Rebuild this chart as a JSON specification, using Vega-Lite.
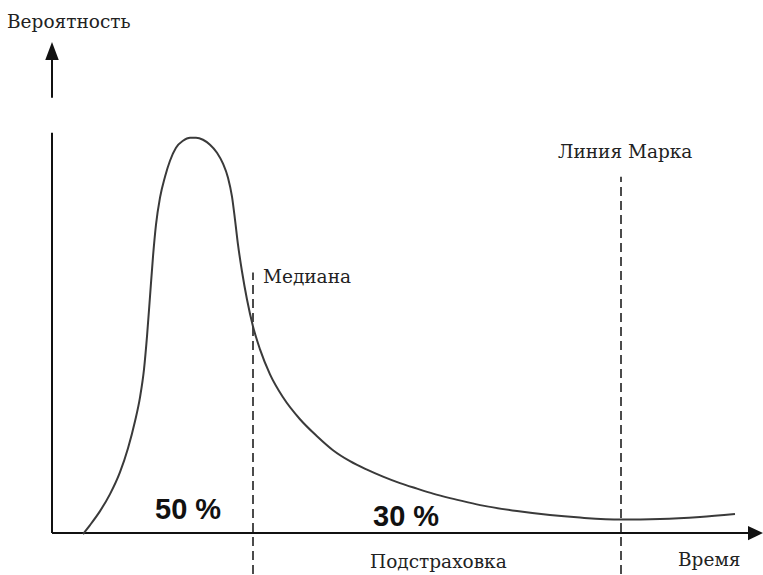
{
  "$schema": "https://vega.github.io/schema/vega-lite/v6.json",
  "width": 763,
  "height": 575,
  "padding": 0,
  "autosize": {"type": "fit", "contains": "padding"},
  "background": "white",
  "config": {"view": {"stroke": null}},
  "datasets": {
    "curve": [
      {"t": 83, "p": 40}, {"t": 90, "p": 49}, {"t": 100, "p": 63}, {"t": 110, "p": 80},
      {"t": 120, "p": 102}, {"t": 128, "p": 126}, {"t": 135, "p": 153}, {"t": 140, "p": 177},
      {"t": 144, "p": 205}, {"t": 147, "p": 238}, {"t": 150, "p": 278}, {"t": 153, "p": 318},
      {"t": 156, "p": 350}, {"t": 160, "p": 377}, {"t": 165, "p": 398}, {"t": 170, "p": 414},
      {"t": 176, "p": 427}, {"t": 183, "p": 434}, {"t": 190, "p": 437}, {"t": 196, "p": 437},
      {"t": 203, "p": 435}, {"t": 210, "p": 430}, {"t": 217, "p": 422}, {"t": 223, "p": 411},
      {"t": 228, "p": 397}, {"t": 232, "p": 378}, {"t": 235, "p": 355}, {"t": 238, "p": 330},
      {"t": 242, "p": 303}, {"t": 247, "p": 275}, {"t": 253, "p": 248}, {"t": 260, "p": 225},
      {"t": 270, "p": 200}, {"t": 283, "p": 177}, {"t": 300, "p": 155}, {"t": 317, "p": 138},
      {"t": 333, "p": 124}, {"t": 350, "p": 113}, {"t": 367, "p": 104.5}, {"t": 383, "p": 97.5},
      {"t": 400, "p": 91}, {"t": 417, "p": 85.5}, {"t": 433, "p": 80.5}, {"t": 450, "p": 76},
      {"t": 467, "p": 72}, {"t": 483, "p": 68.5}, {"t": 517, "p": 63}, {"t": 550, "p": 59},
      {"t": 580, "p": 56.5}, {"t": 621, "p": 54.5}, {"t": 660, "p": 55}, {"t": 700, "p": 57},
      {"t": 735, "p": 60}
    ],
    "axes": [
      {"t": 52, "p": 41, "t2": 750, "p2": 41},
      {"t": 52, "p": 41, "t2": 52, "p2": 442},
      {"t": 52, "p": 477, "t2": 52, "p2": 515}
    ],
    "markers": [
      {"name": "Медиана", "t": 253, "p": 0, "p2": 302},
      {"name": "Линия Марка", "t": 621, "p": 0, "p2": 398}
    ],
    "arrowUp": [{"t": 52, "p": 524}],
    "arrowRight": [{"t": 755.5, "p": 41}],
    "serifLabels": [
      {"label": "Вероятность", "t": 7, "p": 553},
      {"label": "Медиана", "t": 263, "p": 298},
      {"label": "Линия Марка", "t": 558, "p": 423},
      {"label": "Подстраховка", "t": 370, "p": 12},
      {"label": "Время", "t": 678, "p": 14}
    ],
    "shares": [
      {"label": "50 %", "t": 155, "p": 64},
      {"label": "30 %", "t": 373, "p": 57}
    ]
  },
  "layer": [
    {
      "data": {"name": "axes"},
      "mark": {"type": "rule", "stroke": "#111", "strokeWidth": 2},
      "encoding": {
        "x": {"field": "t", "type": "quantitative", "scale": {"domain": [0, 763], "nice": false, "zero": false}, "axis": null},
        "y": {"field": "p", "type": "quantitative", "scale": {"domain": [0, 575], "nice": false, "zero": false}, "axis": null},
        "x2": {"field": "t2"},
        "y2": {"field": "p2"}
      }
    },
    {
      "data": {"name": "markers"},
      "mark": {"type": "rule", "stroke": "#111", "strokeWidth": 1.5, "strokeDash": [9, 5]},
      "encoding": {
        "x": {"field": "t", "type": "quantitative", "scale": {"domain": [0, 763], "nice": false, "zero": false}, "axis": null},
        "y": {"field": "p", "type": "quantitative", "scale": {"domain": [0, 575], "nice": false, "zero": false}, "axis": null},
        "y2": {"field": "p2"}
      }
    },
    {
      "data": {"name": "curve"},
      "mark": {"type": "line", "stroke": "#3a3a3a", "strokeWidth": 2, "interpolate": "monotone"},
      "encoding": {
        "x": {"field": "t", "type": "quantitative", "scale": {"domain": [0, 763], "nice": false, "zero": false}, "axis": null},
        "y": {"field": "p", "type": "quantitative", "scale": {"domain": [0, 575], "nice": false, "zero": false}, "axis": null}
      }
    },
    {
      "data": {"name": "arrowUp"},
      "mark": {"type": "point", "shape": "M0,-1L0.75,1L-0.75,1Z", "filled": true, "fill": "#111", "stroke": null, "opacity": 1, "size": 324},
      "encoding": {
        "x": {"field": "t", "type": "quantitative", "scale": {"domain": [0, 763], "nice": false, "zero": false}, "axis": null},
        "y": {"field": "p", "type": "quantitative", "scale": {"domain": [0, 575], "nice": false, "zero": false}, "axis": null}
      }
    },
    {
      "data": {"name": "arrowRight"},
      "mark": {"type": "point", "shape": "M1,0L-1,-0.95L-1,0.95Z", "filled": true, "fill": "#111", "stroke": null, "opacity": 1, "size": 225},
      "encoding": {
        "x": {"field": "t", "type": "quantitative", "scale": {"domain": [0, 763], "nice": false, "zero": false}, "axis": null},
        "y": {"field": "p", "type": "quantitative", "scale": {"domain": [0, 575], "nice": false, "zero": false}, "axis": null}
      }
    },
    {
      "data": {"name": "serifLabels"},
      "mark": {"type": "text", "font": "DejaVu Serif", "fontSize": 18.5, "align": "left", "baseline": "middle", "fill": "#222"},
      "encoding": {
        "x": {"field": "t", "type": "quantitative", "scale": {"domain": [0, 763], "nice": false, "zero": false}, "axis": null},
        "y": {"field": "p", "type": "quantitative", "scale": {"domain": [0, 575], "nice": false, "zero": false}, "axis": null},
        "text": {"field": "label"}
      }
    },
    {
      "data": {"name": "shares"},
      "mark": {"type": "text", "font": "Liberation Sans", "fontSize": 29, "fontWeight": "bold", "align": "left", "baseline": "middle", "fill": "#111"},
      "encoding": {
        "x": {"field": "t", "type": "quantitative", "scale": {"domain": [0, 763], "nice": false, "zero": false}, "axis": null},
        "y": {"field": "p", "type": "quantitative", "scale": {"domain": [0, 575], "nice": false, "zero": false}, "axis": null},
        "text": {"field": "label"}
      }
    }
  ]
}
